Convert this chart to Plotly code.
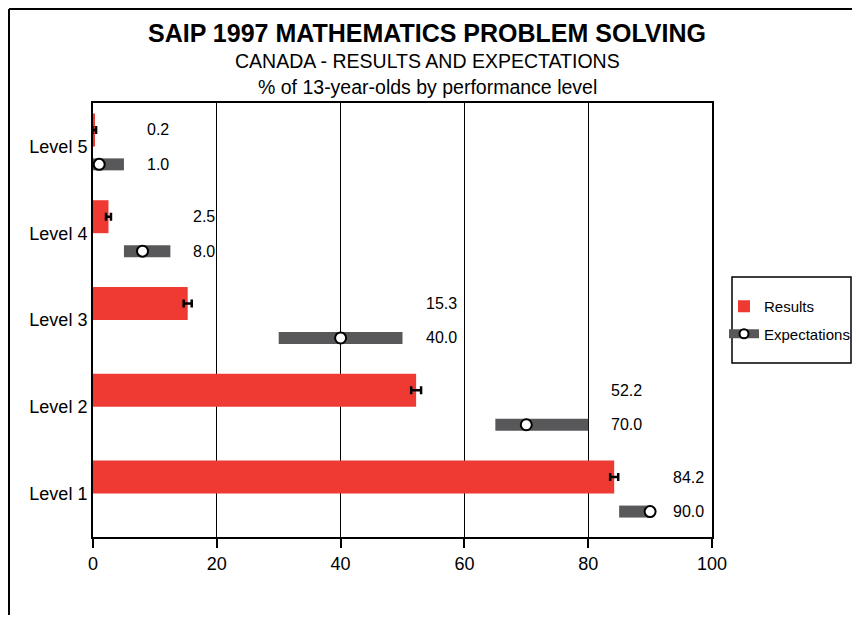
import plotly.graph_objects as go

levels = ["Level 1", "Level 2", "Level 3", "Level 4", "Level 5"]
results = [84.2, 52.2, 15.3, 2.5, 0.2]
results_err = [0.65, 0.8, 0.65, 0.4, 0.3]
expect = [90.0, 70.0, 40.0, 8.0, 1.0]
expect_low = [85, 65, 30, 5, 0]
expect_high = [90, 80, 50, 12.5, 5]

RED = "#EE3A33"
GREY = "#58585A"
FONT = "Liberation Sans, Arial, sans-serif"

# plot area in figure pixels (page adds an 8px body margin)
L, T, W, H = 85, 95, 619, 434
FW, FH = 844, 607


def xp(px):
    return (px - L) / W


def yp(py):
    return (T + H - py) / H


pos = list(range(1, len(levels) + 1))
res_y = [p + 0.19 for p in pos]
exp_y = [p - 0.207 for p in pos]

fig = go.Figure()

fig.add_trace(go.Bar(
    y=res_y, x=results, orientation="h", width=0.38,
    marker=dict(color=RED, line=dict(width=0)),
    error_x=dict(type="data", array=results_err, color="black", thickness=2.5, width=4),
    name="Results", legendgroup="a",
))

fig.add_trace(go.Bar(
    y=exp_y, x=[h - l for h, l in zip(expect_high, expect_low)], base=expect_low,
    orientation="h", width=0.138,
    marker=dict(color=GREY, line=dict(width=0)),
    showlegend=False,
))

fig.add_trace(go.Scatter(
    y=exp_y, x=expect, mode="markers",
    marker=dict(symbol="circle", size=11, color="white", line=dict(color="black", width=2)),
    showlegend=False,
))

# legend-only entry: grey bar with a circle
fig.add_trace(go.Scatter(
    x=[None], y=[None], mode="lines+markers", name="Expectations", legendgroup="b",
    line=dict(color=GREY, width=9),
    marker=dict(symbol="circle", size=9, color="white", line=dict(color="black", width=2)),
))

for i in range(len(levels)):
    fig.add_annotation(x=expect_high[i] + 3.4, y=res_y[i], text=f"{results[i]:.1f}",
                       showarrow=False, xanchor="left", yanchor="middle",
                       font=dict(size=16, color="black"))
    fig.add_annotation(x=expect_high[i] + 3.4, y=exp_y[i], text=f"{expect[i]:.1f}",
                       showarrow=False, xanchor="left", yanchor="middle",
                       font=dict(size=16, color="black"))

# titles
fig.add_annotation(xref="paper", yref="paper", x=xp(419), y=yp(25),
                   xanchor="center", yanchor="middle",
                   text="<b>SAIP 1997 MATHEMATICS PROBLEM SOLVING</b>", showarrow=False,
                   font=dict(size=25, color="black"))
fig.add_annotation(xref="paper", yref="paper", x=xp(419), y=yp(53),
                   xanchor="center", yanchor="middle",
                   text="CANADA - RESULTS AND EXPECTATIONS", showarrow=False,
                   font=dict(size=19.5, color="black"))
fig.add_annotation(xref="paper", yref="paper", x=xp(419), y=yp(79),
                   xanchor="center", yanchor="middle",
                   text="% of 13-year-olds by performance level", showarrow=False,
                   font=dict(size=19.5, color="black"))

# outer frame (left and top edges) and legend box
fig.add_shape(type="line", xref="paper", yref="paper",
              x0=xp(1), x1=xp(1), y0=yp(FH), y1=yp(1),
              line=dict(color="black", width=2))
fig.add_shape(type="line", xref="paper", yref="paper",
              x0=xp(1), x1=xp(FW), y0=yp(1), y1=yp(1),
              line=dict(color="black", width=2))
fig.add_shape(type="rect", xref="paper", yref="paper",
              x0=xp(724), x1=xp(843), y0=yp(355), y1=yp(269),
              line=dict(color="black", width=1.5))

fig.update_layout(
    width=FW, height=FH,
    margin=dict(l=L, r=FW - L - W, t=T, b=FH - T - H, autoexpand=False),
    paper_bgcolor="white", plot_bgcolor="white",
    font=dict(family=FONT, color="black", size=18),
    barmode="overlay",
    legend=dict(x=xp(716), y=yp(282), xanchor="left", yanchor="top",
                font=dict(size=15), bgcolor="rgba(0,0,0,0)", borderwidth=0,
                itemwidth=30, traceorder="grouped", tracegroupgap=5),
    showlegend=True,
)

fig.update_xaxes(range=[0, 100], tickvals=[0, 20, 40, 60, 80, 100],
                 showgrid=True, gridcolor="black", gridwidth=1,
                 showline=True, linecolor="black", linewidth=2, mirror=True,
                 ticks="outside", ticklen=9, tickwidth=1.5, tickcolor="black",
                 zeroline=False, tickfont=dict(size=18))
fig.update_yaxes(range=[0.5, 5.5], tickvals=pos, ticktext=levels,
                 showgrid=False, showline=True, linecolor="black", linewidth=2, mirror=True,
                 ticks="", zeroline=False, tickfont=dict(size=18), ticklabelstandoff=0)

fig.write_html("out.html")
